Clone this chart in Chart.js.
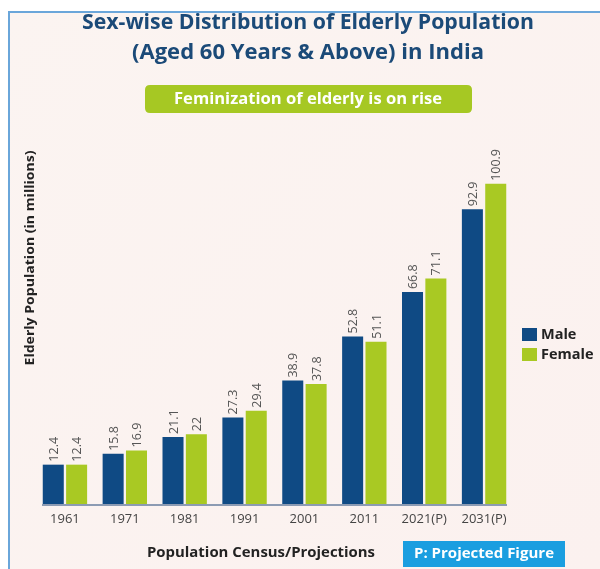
<!DOCTYPE html>
<html><head><meta charset="utf-8">
<script src="https://cdn.jsdelivr.net/npm/chart.js@4.4.1/dist/chart.umd.min.js"></script>
<style>
html,body{margin:0;padding:0;background:#fff;}
#wrap{position:relative;width:600px;height:569px;}
canvas{display:block;}
</style></head>
<body>
<div id="wrap"><canvas id="c" width="600" height="569"></canvas></div>
<script>
const categories = ["1961","1971","1981","1991","2001","2011","2021(P)","2031(P)"];
const maleValues = [12.4,15.8,21.1,27.3,38.9,52.8,66.8,92.9];
const femaleValues = [12.4,16.9,22,29.4,37.8,51.1,71.1,100.9];
const seriesNames = ["Male","Female"];
const titleLines = ["Sex-wise Distribution of Elderly Population","(Aged 60 Years & Above) in India"];
const pillText = "Feminization of elderly is on rise";
const yTitle = "Elderly Population (in millions)";
const xTitle = "Population Census/Projections";
const noteText = "P: Projected Figure";

const MALE = "#0f4a84", FEMALE = "#a9c923", NAVY = "#1b4a78";
const FONT = "'Open Sans', Lato, sans-serif";

function rr(ctx,x,y,w,h,r){ctx.beginPath();ctx.moveTo(x+r,y);ctx.lineTo(x+w-r,y);ctx.quadraticCurveTo(x+w,y,x+w,y+r);ctx.lineTo(x+w,y+h-r);ctx.quadraticCurveTo(x+w,y+h,x+w-r,y+h);ctx.lineTo(x+r,y+h);ctx.quadraticCurveTo(x,y+h,x,y+h-r);ctx.lineTo(x,y+r);ctx.quadraticCurveTo(x,y,x+r,y);ctx.closePath();}
function fitText(ctx,txt,x,y,w){
  const m=ctx.measureText(txt).width;ctx.save();ctx.translate(x,y);ctx.scale(w/m,1);ctx.fillText(txt,0,0);ctx.restore();
}

const deco = {
  id:'deco',
  beforeDraw(chart){
    const ctx=chart.ctx;
    ctx.save();
    ctx.fillStyle="#fff";ctx.fillRect(0,0,600,569);
    const g=ctx.createLinearGradient(0,0,600,569);
    g.addColorStop(0,"#fbf4f1");g.addColorStop(1,"#fbf1ef");
    ctx.fillStyle=g;ctx.fillRect(10,13,590,556);
    ctx.strokeStyle="#6aa6da";ctx.lineWidth=2;
    ctx.beginPath();ctx.moveTo(9,569);ctx.lineTo(9,12);ctx.lineTo(600,12);ctx.stroke();
    ctx.fillStyle=NAVY;ctx.textAlign="center";ctx.textBaseline="middle";
    ctx.font="bold 21px "+FONT;
    fitText(ctx,titleLines[0],308,23,452);
    fitText(ctx,titleLines[1],308,53,352);
    ctx.fillStyle="#a6c823";rr(ctx,145,85,327,28,5);ctx.fill();
    ctx.fillStyle="#fff";ctx.font="bold 16px "+FONT;fitText(ctx,pillText,308,99,268);
    ctx.save();ctx.translate(30,258);ctx.rotate(-Math.PI/2);
    ctx.fillStyle="#222";ctx.font="bold 12.5px "+FONT;fitText(ctx,yTitle,0,0,215);ctx.restore();
    ctx.fillStyle="#222";ctx.font="bold 13.5px "+FONT;fitText(ctx,xTitle,261,553,228);
    ctx.fillStyle="#1a9ee0";ctx.fillRect(403,541,162,26);
    ctx.fillStyle="#fff";ctx.font="bold 13.5px "+FONT;fitText(ctx,noteText,484,554,140);
    ctx.restore();
  },
  afterDatasetsDraw(chart){
    const ctx=chart.ctx;const area=chart.chartArea;
    ctx.save();
    ctx.strokeStyle="#8c9bb3";ctx.lineWidth=2;
    ctx.beginPath();ctx.moveTo(area.left+7,area.bottom+1);ctx.lineTo(area.right-7,area.bottom+1);ctx.stroke();
    ctx.fillStyle="#555";ctx.font="12.5px "+FONT;ctx.textAlign="left";ctx.textBaseline="middle";
    chart.data.datasets.forEach((ds,i)=>{
      chart.getDatasetMeta(i).data.forEach((bar,j)=>{
        ctx.save();ctx.translate(bar.x+1,bar.y-3);ctx.rotate(-Math.PI/2);
        ctx.fillText(String(ds.data[j]),0,0);ctx.restore();
      });
    });
    ctx.font="bold 14.5px "+FONT;ctx.textBaseline="middle";
    chart.data.datasets.forEach((ds,i)=>{
      const y=328+i*20;
      ctx.fillStyle=ds.backgroundColor;ctx.fillRect(522,y,15,13);
      ctx.fillStyle="#222";ctx.fillText(ds.label,541,y+7);
    });
    ctx.restore();
  }
};

new Chart(document.getElementById('c'),{
  type:'bar',
  data:{labels:categories,datasets:[
    {label:seriesNames[0],data:maleValues,backgroundColor:MALE,barPercentage:0.9,categoryPercentage:0.78},
    {label:seriesNames[1],data:femaleValues,backgroundColor:FEMALE,barPercentage:0.9,categoryPercentage:0.78}
  ]},
  options:{
    responsive:false,animation:false,devicePixelRatio:1,
    layout:{padding:{left:35,right:86,top:155,bottom:0}},
    plugins:{legend:{display:false},title:{display:false},tooltip:{enabled:false}},
    scales:{
      x:{grid:{display:false,drawTicks:false},border:{display:false},
         ticks:{color:"#444",font:{family:FONT,size:13},padding:7},
         afterFit(s){s.height=65;}},
      y:{display:false,min:0,max:110,
         afterFit(s){s.width=0;}}
    }
  },
  plugins:[deco]
});
</script>
</body></html>
